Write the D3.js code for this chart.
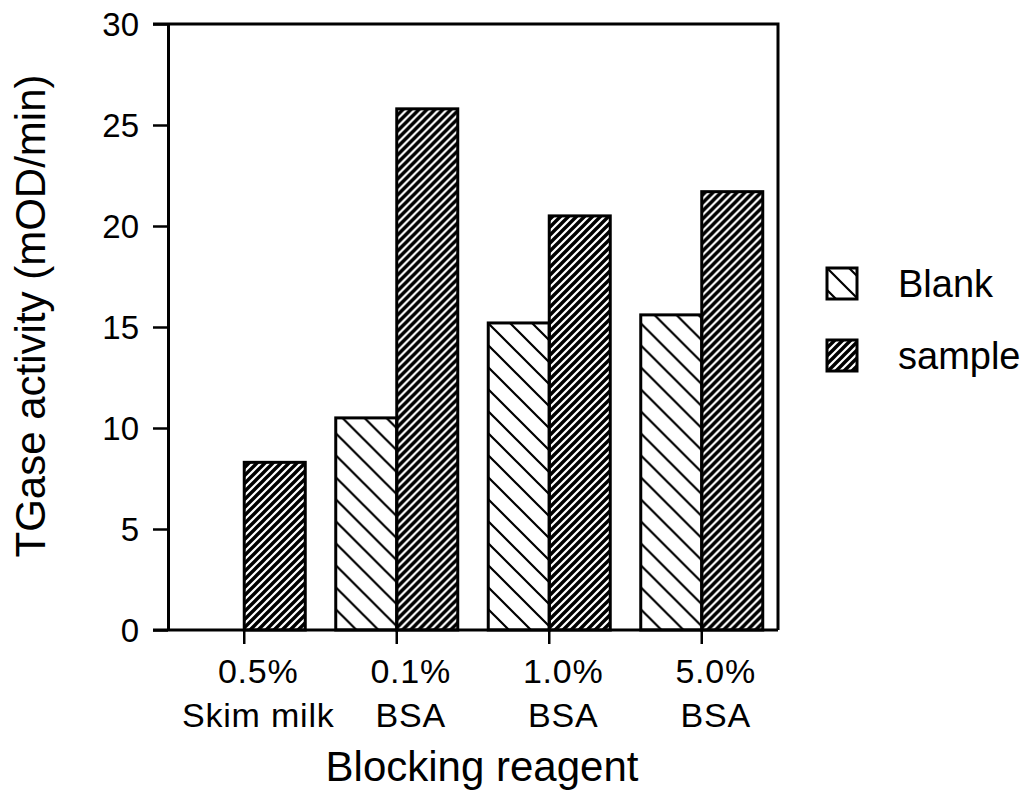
<!DOCTYPE html>
<html>
<head>
<meta charset="utf-8">
<script src="https://cdn.jsdelivr.net/npm/d3@7"></script>
<style>
  html, body { margin: 0; padding: 0; background: #fff; }
  svg { display: block; font-family: "Liberation Sans", Arial, Helvetica, sans-serif; }
</style>
</head>
<body>
<svg id="chart" width="1034" height="793"></svg>
<script>
// Blocking reagents (two-line category labels)
const categories = ["0.5% Skim milk", "0.1% BSA", "1.0% BSA", "5.0% BSA"];
const categoryLine1 = ["0.5%", "0.1%", "1.0%", "5.0%"];
const categoryLine2 = ["Skim milk", "BSA", "BSA", "BSA"];
const seriesNames = ["Blank", "sample"];
// TGase activity (mOD/min)
const blankValues = [0, 10.5, 15.2, 15.6];
const sampleValues = [8.3, 25.8, 20.5, 21.7];
const yTicks = [0, 5, 10, 15, 20, 25, 30];

const svg = d3.select("#chart");
const plotLeft = 168, plotRight = 778, plotTop = 24, plotBottom = 630;

// hatch fills
const defs = svg.append("defs");
const pBlank = defs.append("pattern")
  .attr("id", "hatch-blank").attr("patternUnits", "userSpaceOnUse")
  .attr("width", 22).attr("height", 22);
pBlank.append("path")
  .attr("d", "M-11,11 L11,33 M0,0 L22,22 M11,-11 L33,11")
  .attr("stroke", "#000").attr("stroke-width", 2.2);
const pSample = defs.append("pattern")
  .attr("id", "hatch-sample").attr("patternUnits", "userSpaceOnUse")
  .attr("width", 8).attr("height", 8);
pSample.append("path")
  .attr("d", "M-2,2 L2,-2 M0,8 L8,0 M6,10 L10,6")
  .attr("stroke", "#000").attr("stroke-width", 3.4);
const fills = { Blank: "url(#hatch-blank)", sample: "url(#hatch-sample)" };

const x0 = d3.scaleBand().domain(categories).range([plotLeft, plotRight]).paddingInner(0).paddingOuter(0);
const x1 = d3.scaleBand().domain(seriesNames).range([0, x0.bandwidth()]).paddingInner(0).paddingOuter(0.25);
const y = d3.scaleLinear().domain([0, 30]).range([plotBottom, plotTop]);

const rows = categories.map((c, i) => ({
  cat: c,
  vals: [
    { key: "Blank", value: blankValues[i] },
    { key: "sample", value: sampleValues[i] }
  ]
}));

// bars
const g = svg.append("g");
g.selectAll("g.grp").data(rows).join("g")
  .attr("class", "grp")
  .attr("transform", d => `translate(${x0(d.cat)},0)`)
  .selectAll("rect").data(d => d.vals.filter(v => v.value > 0)).join("rect")
  .attr("x", d => x1(d.key))
  .attr("y", d => y(d.value))
  .attr("width", x1.bandwidth())
  .attr("height", d => y(0) - y(d.value))
  .attr("fill", d => fills[d.key])
  .attr("stroke", "#000")
  .attr("stroke-width", 3);

// frame: top and right borders
svg.append("path")
  .attr("d", `M${plotLeft - 15},${plotTop} L${plotRight},${plotTop} L${plotRight},${plotBottom}`)
  .attr("fill", "none").attr("stroke", "#000").attr("stroke-width", 3);

// y axis
const yAxis = d3.axisLeft(y).tickValues(yTicks).tickSize(15).tickPadding(14).tickSizeOuter(0);
const gy = svg.append("g").attr("transform", `translate(${plotLeft},0)`).call(yAxis);
gy.select(".domain").attr("stroke-width", 3);
gy.selectAll(".tick line").attr("stroke-width", 2.5);
gy.selectAll(".tick text").attr("font-size", 33).attr("fill", "#000")
  .attr("font-family", "'Liberation Sans', Arial, sans-serif")
  .attr("dy", "0.36em");

// x axis
const xAxis = d3.axisBottom(x0).tickSize(14).tickSizeOuter(0).tickFormat("");
const gx = svg.append("g").attr("transform", `translate(0,${plotBottom})`).call(xAxis);
gx.select(".domain").attr("stroke-width", 3).attr("d", `M${plotLeft - 15},0H${plotRight}`);
gx.selectAll(".tick line").attr("stroke-width", 2.5);

// category labels
const labels = svg.append("g").attr("font-size", 34).attr("text-anchor", "middle").attr("fill", "#000");
categories.forEach((c, i) => {
  const cx = x0(c) + x0.bandwidth() / 2 + 14;
  labels.append("text").attr("x", cx).attr("y", 683).attr("letter-spacing", 0.8).text(categoryLine1[i]);
  labels.append("text").attr("x", cx).attr("y", 727).attr("letter-spacing", 0.8).text(categoryLine2[i]);
});

// axis titles
svg.append("text")
  .attr("x", 482).attr("y", 781)
  .attr("text-anchor", "middle").attr("font-size", 42)
  .text("Blocking reagent");
svg.append("text")
  .attr("transform", "translate(45,316) rotate(-90)")
  .attr("text-anchor", "middle").attr("font-size", 42)
  .text("TGase activity (mOD/min)");

// legend
const legend = svg.append("g").attr("transform", "translate(827,268)");
seriesNames.forEach((s, i) => {
  const row = legend.append("g").attr("transform", `translate(0,${i * 72})`);
  row.append("rect").attr("x", 0).attr("y", 0).attr("width", 30).attr("height", 31)
    .attr("fill", fills[s]).attr("stroke", "#000").attr("stroke-width", 3);
  row.append("text").attr("x", 71).attr("y", 29).attr("font-size", 38).text(s);
});
</script>
</body>
</html>
